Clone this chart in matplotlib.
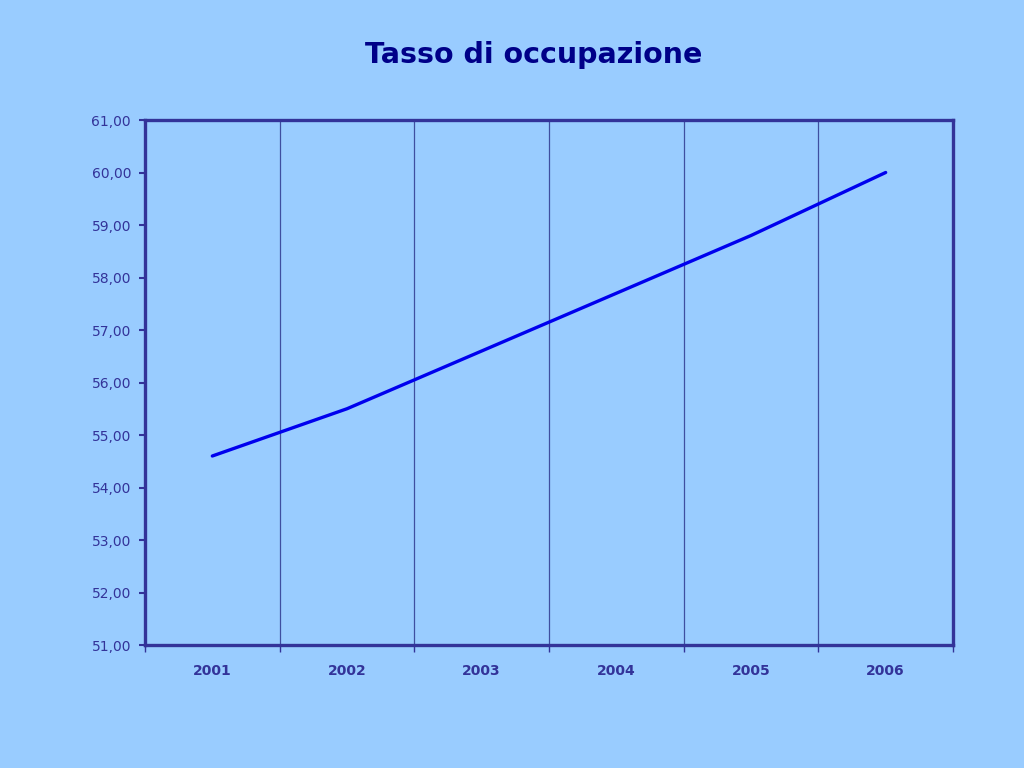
import numpy as np
from matplotlib import pyplot
from matplotlib.ticker import FixedLocator, FuncFormatter

# Data
YEARS = ['2001', '2002', '2003', '2004', '2005', '2006']
RATE = [54.6, 55.5, 56.6, 57.7, 58.8, 60.0]

BG = '#99CCFF'
DARK = '#333399'


def main():
    figure = pyplot.figure(figsize=(10.24, 7.68), dpi=100, facecolor=BG)
    axes = figure.add_axes([145 / 1024, 1 - 645 / 768, 808 / 1024, 525 / 768])
    axes.set_facecolor(BG)

    x = np.arange(len(YEARS))
    axes.plot(x, RATE, color='#0000EE', linewidth=2.4, solid_capstyle='round')

    axes.set_xlim(-0.5, len(YEARS) - 0.5)
    axes.set_ylim(51, 61)
    axes.set_yticks(np.arange(51, 62, 1))
    axes.yaxis.set_major_formatter(FuncFormatter(lambda v, _: f'{v:.2f}'.replace('.', ',')))

    axes.set_xticks(x)
    axes.set_xticklabels(YEARS, fontweight='bold', fontsize=10, color=DARK)
    axes.xaxis.set_minor_locator(FixedLocator(np.arange(-0.5, len(YEARS), 1)))
    axes.tick_params(axis='x', which='major', length=0, pad=14)
    axes.tick_params(axis='x', which='minor', length=5, width=1, color=DARK)
    axes.tick_params(axis='y', length=4, width=1.5, color=DARK, labelcolor=DARK, labelsize=10, pad=6)

    # vertical separators between the years
    for bound in np.arange(0.5, len(YEARS) - 1, 1):
        axes.axvline(bound, color='#3F4FA0', linewidth=0.9, zorder=0)

    for spine in axes.spines.values():
        spine.set_color(DARK)
        spine.set_linewidth(2.4)

    figure.text(534 / 1024, 1 - 55 / 768, 'Tasso di occupazione', ha='center', va='center',
                fontsize=20.5, fontweight='bold', color='#000088')

    figure.savefig('out.png', facecolor=BG)


if __name__ == '__main__':
    main()
